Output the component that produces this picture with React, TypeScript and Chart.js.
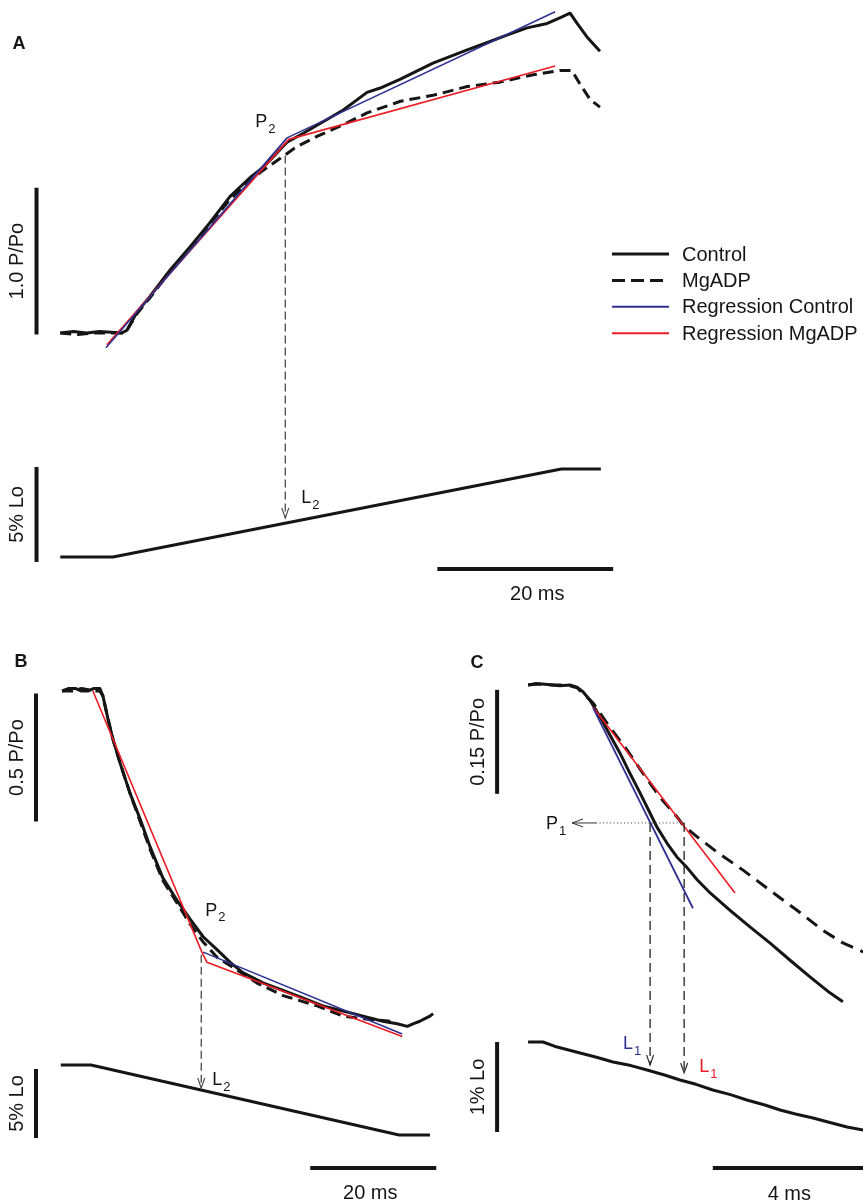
import React, { useEffect, useRef } from "react";
import { Chart, registerables } from "chart.js";

Chart.register(...registerables);

const W = 863;
const H = 1203;

type P = [number, number];

// ===== Panel A (stretch): time in ms, force as change in P/Po, length change in % Lo =====
const controlForceA: P[] = [[-6.0,0.00],[-4.5,0.01],[-3.0,0.00],[-1.5,0.01],[1.0,0.00],[1.6,0.02],[2.7,0.14],[4.2,0.25],[6.5,0.43],[8.8,0.59],[11.0,0.75],[13.3,0.93],[15.6,1.06],[17.1,1.13],[18.7,1.23],[19.8,1.30],[21.6,1.36],[23.9,1.44],[26.2,1.52],[28.9,1.64],[30.4,1.67],[32.7,1.73],[36.4,1.84],[40.3,1.93],[42.6,1.98],[44.8,2.03],[47.1,2.08],[49.4,2.11],[50.9,2.15],[52.0,2.18],[52.8,2.11],[53.9,2.02],[55.4,1.92]];
const mgadpForceA: P[] = [[-6.0,0.00],[-4.0,-0.01],[-2.0,0.00],[1.0,0.00],[1.6,0.02],[2.7,0.13],[4.2,0.24],[6.5,0.42],[8.8,0.58],[11.0,0.74],[13.3,0.91],[15.6,1.04],[17.1,1.11],[19.0,1.19],[20.9,1.27],[23.2,1.34],[26.2,1.42],[28.9,1.50],[32.7,1.58],[36.4,1.62],[40.3,1.68],[44.0,1.71],[47.8,1.76],[50.9,1.79],[52.2,1.79],[53.1,1.70],[54.3,1.59],[55.4,1.54]];
const regControlA: P[] = [[-0.8,-0.10],[19.8,1.33],[50.3,2.19]];
const regMgadpA: P[] = [[-0.7,-0.08],[20.0,1.32],[50.3,1.82]];
const lengthA: P[] = [[-6.0,0],[0,0],[51.0,4.63],[55.5,4.63]];
const p2A = { t: 19.6, force: 1.21, length: 2.05 };
const forceBarA = { t: -8.7, from: -0.01, to: 0.99, label: "1.0 P/Po" };
const lengthBarA = { t: -8.7, from: -0.26, to: 4.74, label: "5% Lo" };
const timeBarA = { y: -0.63, from: 36.9, to: 56.9, label: "20 ms" };

// ===== Panel B (release) =====
const controlForceB: P[] = [[-4.6,0.00],[-3.5,0.01],[-2.5,0.01],[-1.5,0.00],[-0.5,0.00],[0.5,0.01],[1.4,0.01],[1.9,-0.02],[2.7,-0.11],[3.5,-0.19],[4.6,-0.28],[6.2,-0.40],[7.8,-0.50],[9.4,-0.61],[11.4,-0.73],[13.7,-0.82],[15.7,-0.89],[17.8,-0.96],[20.0,-1.01],[22.1,-1.06],[24.1,-1.10],[27.3,-1.14],[30.5,-1.17],[33.7,-1.20],[36.8,-1.23],[40.0,-1.25],[43.2,-1.27],[46.3,-1.29],[48.6,-1.30],[50.2,-1.31],[51.1,-1.30],[52.2,-1.29],[53.0,-1.28],[53.8,-1.27],[54.3,-1.26]];
const mgadpForceB: P[] = [[-4.6,0.00],[-3.0,0.00],[-1.5,0.01],[0.5,0.00],[1.4,0.00],[1.9,-0.02],[2.7,-0.11],[3.5,-0.19],[4.6,-0.28],[6.2,-0.40],[7.8,-0.51],[9.4,-0.62],[11.4,-0.74],[13.7,-0.83],[15.7,-0.91],[17.8,-0.98],[20.0,-1.04],[23.2,-1.09],[26.3,-1.14],[30.5,-1.19],[35.9,-1.23],[40.0,-1.27],[43.2,-1.28],[47.5,-1.29]];
const regControlB: P[] = [[17.8,-1.02],[49.4,-1.34]];
const regMgadpB: P[] = [[0.3,0.00],[17.6,-1.02],[18.4,-1.06],[49.4,-1.35]];
const lengthB: P[] = [[-4.8,0],[0,0],[48.9,-5.07],[53.8,-5.07]];
const p2B = { t: 17.5, force: -1.03, length: -1.67 };
const forceBarB = { t: -8.73, from: -0.51, to: -0.01, label: "0.5 P/Po" };
const lengthBarB = { t: -8.73, from: -5.29, to: -0.29, label: "5% Lo" };
const timeBarB = { y: -7.46, from: 34.8, to: 54.8, label: "20 ms" };

// ===== Panel C (early phase of release) =====
const controlForceC: P[] = [[-0.39,0.000],[-0.2,0.002],[0.05,0.001],[0.25,0.000],[0.44,-0.001],[0.7,0.000],[0.89,-0.003],[1.05,-0.010],[1.23,-0.022],[1.49,-0.046],[1.75,-0.072],[2.01,-0.098],[2.27,-0.127],[2.54,-0.156],[2.80,-0.185],[2.98,-0.205],[3.24,-0.228],[3.50,-0.248],[3.76,-0.263],[4.03,-0.281],[4.37,-0.300],[4.89,-0.325],[5.41,-0.349],[5.93,-0.372],[6.46,-0.397],[6.98,-0.421],[7.50,-0.444],[7.84,-0.457]];
const mgadpForceC: P[] = [[-0.39,0.000],[-0.2,0.001],[0.05,0.001],[0.25,0.000],[0.44,0.000],[0.7,-0.001],[0.89,-0.004],[1.31,-0.026],[1.75,-0.061],[2.20,-0.094],[2.61,-0.127],[3.06,-0.162],[3.50,-0.190],[3.66,-0.202],[4.03,-0.219],[4.55,-0.241],[5.23,-0.267],[5.93,-0.296],[6.64,-0.325],[7.32,-0.354],[7.84,-0.372],[8.37,-0.385],[8.7,-0.392]];
const regControlC: P[] = [[1.31,-0.033],[3.92,-0.322]];
const regMgadpC: P[] = [[1.31,-0.032],[5.02,-0.300]];
const lengthC: P[] = [[-0.39,0],[0,0],[0.37,-0.056],[0.97,-0.122],[1.4,-0.17],[1.83,-0.222],[2.3,-0.262],[2.72,-0.311],[3.2,-0.37],[3.58,-0.422],[4.0,-0.47],[4.44,-0.533],[4.9,-0.585],[5.33,-0.644],[5.8,-0.70],[6.20,-0.756],[6.6,-0.80],[7.06,-0.844],[7.5,-0.895],[7.95,-0.944],[8.37,-0.978],[8.7,-1.01]];
const p1C = { force: -0.199, tStart: 0.76, tEnd: 3.71 };
const l1ControlC = { t: 2.80, length: -0.256 };
const l1MgadpC = { t: 3.69, length: -0.344 };
const forceBarC = { t: -1.2, from: -0.157, to: -0.007, label: "0.15 P/Po" };
const lengthBarC = { t: -1.2, from: -1.0, to: 0.0, label: "1% Lo" };
const timeBarC = { y: -1.40, from: 4.44, to: 8.44, label: "4 ms" };

const legendLabels = ["Control", "MgADP", "Regression Control", "Regression MgADP"];

// ===== styles & hidden-axis calibration (pixel of zero, pixels per unit) =====
const FONT = "'Liberation Sans', Arial, Helvetica, sans-serif";
const INK = "#151515";
const BLUE = "#2e3192";
const RED = "#ed1c24";
const GREY = "#4a4a4a";

const CAL: Record<string, [number, number]> = {
  xA: [113, 8.79], yAF: [333, 146.7], yAL: [557, 19],
  xB: [91, 6.3], yBF: [691, 256], yBL: [1065, 13.8],
  xC: [543, 38.25], yCF: [685, 693.3], yCL: [1042, 90],
};

function buildScales() {
  const scales: any = {};
  for (const [id, [o, ppu]] of Object.entries(CAL)) {
    if (id[0] === "x") {
      scales[id] = { type: "linear", axis: "x", position: "bottom", display: false, min: -o / ppu, max: (W - o) / ppu };
    } else {
      scales[id] = { type: "linear", axis: "y", position: "left", display: false, min: (o - H) / ppu, max: o / ppu };
    }
  }
  return scales;
}

function ds(data: P[], x: string, y: string, color: string, width: number, dash: number[] = []) {
  return {
    data: data.map(([a, b]) => ({ x: a, y: b })),
    xAxisID: x,
    yAxisID: y,
    borderColor: color,
    backgroundColor: color,
    borderWidth: width,
    borderDash: dash,
    borderCapStyle: "butt",
    borderJoinStyle: "round",
    pointRadius: 0,
    tension: 0,
    fill: false,
  };
}

function vBar(b: { t: number; from: number; to: number }, x: string, y: string) {
  return ds([[b.t, b.from], [b.t, b.to]], x, y, INK, 4);
}
function hBar(b: { y: number; from: number; to: number }, x: string, y: string) {
  return ds([[b.from, b.y], [b.to, b.y]], x, y, INK, 4);
}

const DASH = [11, 6];

function buildDatasets() {
  return [
    // regressions on top
    ds(regControlA, "xA", "yAF", BLUE, 1.6),
    ds(regMgadpA, "xA", "yAF", RED, 1.6),
    ds(regControlB, "xB", "yBF", BLUE, 1.6),
    ds(regMgadpB, "xB", "yBF", RED, 1.6),
    ds(regControlC, "xC", "yCF", BLUE, 1.8),
    ds(regMgadpC, "xC", "yCF", RED, 1.6),
    // traces
    ds(controlForceA, "xA", "yAF", INK, 3),
    ds(mgadpForceA, "xA", "yAF", INK, 3, DASH),
    ds(lengthA, "xA", "yAL", INK, 3),
    ds(controlForceB, "xB", "yBF", INK, 3),
    ds(mgadpForceB, "xB", "yBF", INK, 3, DASH),
    ds(lengthB, "xB", "yBL", INK, 3),
    ds(controlForceC, "xC", "yCF", INK, 3),
    ds(mgadpForceC, "xC", "yCF", INK, 3, [13, 8]),
    ds(lengthC, "xC", "yCL", INK, 3),
    // scale bars
    vBar(forceBarA, "xA", "yAF"),
    vBar(lengthBarA, "xA", "yAL"),
    hBar(timeBarA, "xA", "yAL"),
    vBar(forceBarB, "xB", "yBF"),
    vBar(lengthBarB, "xB", "yBL"),
    hBar(timeBarB, "xB", "yBL"),
    vBar(forceBarC, "xC", "yCF"),
    vBar(lengthBarC, "xC", "yCL"),
    hBar(timeBarC, "xC", "yCL"),
  ];
}

function text(ctx: CanvasRenderingContext2D, s: string, x: number, y: number, font: string, color = INK, align: CanvasTextAlign = "center") {
  ctx.font = font;
  ctx.fillStyle = color;
  ctx.textAlign = align;
  ctx.textBaseline = "middle";
  ctx.fillText(s, x, y);
}

function rotText(ctx: CanvasRenderingContext2D, s: string, x: number, y: number) {
  ctx.save();
  ctx.translate(x, y);
  ctx.rotate(-Math.PI / 2);
  text(ctx, s, 0, 0, `20px ${FONT}`);
  ctx.restore();
}

function subLabel(ctx: CanvasRenderingContext2D, main: string, sub: string, cx: number, cy: number, color = INK) {
  ctx.font = `18px ${FONT}`;
  const w = ctx.measureText(main).width;
  text(ctx, main, cx - w / 2, cy, `18px ${FONT}`, color, "left");
  text(ctx, sub, cx + w / 2 + 1, cy + 7, `13px ${FONT}`, color, "left");
}

function vArrow(ctx: CanvasRenderingContext2D, x: number, y1: number, y2: number, color: string, dash: number[]) {
  ctx.save();
  ctx.strokeStyle = color;
  ctx.lineWidth = 1.3;
  ctx.setLineDash(dash);
  ctx.beginPath();
  ctx.moveTo(x, y1);
  ctx.lineTo(x, y2);
  ctx.stroke();
  ctx.setLineDash([]);
  ctx.lineWidth = 1.1;
  ctx.beginPath();
  ctx.moveTo(x - 3.5, y2 - 10);
  ctx.lineTo(x, y2);
  ctx.lineTo(x + 3.5, y2 - 10);
  ctx.stroke();
  ctx.restore();
}

const annotations = {
  id: "annotations",
  afterDatasetsDraw(chart: any) {
    const { ctx, scales: s } = chart;
    const px = (id: string, v: number) => s[id].getPixelForValue(v);
    ctx.save();

    // panel letters
    text(ctx, "A", 19, 44, `bold 18px ${FONT}`);
    text(ctx, "B", 21, 662, `bold 18px ${FONT}`);
    text(ctx, "C", 477, 663, `bold 18px ${FONT}`);

    // scale bar labels
    const vLab = (b: any, x: string, y: string) =>
      rotText(ctx, b.label, px(x, b.t) - 19, (px(y, b.from) + px(y, b.to)) / 2);
    vLab(forceBarA, "xA", "yAF");
    vLab(lengthBarA, "xA", "yAL");
    vLab(forceBarB, "xB", "yBF");
    vLab(lengthBarB, "xB", "yBL");
    vLab(forceBarC, "xC", "yCF");
    vLab(lengthBarC, "xC", "yCL");
    const hLab = (b: any, x: string, y: string, dx: number) =>
      text(ctx, b.label, (px(x, b.from) + px(x, b.to)) / 2 + dx, px(y, b.y) + 26, `20px ${FONT}`);
    hLab(timeBarA, "xA", "yAL", 12);
    hLab(timeBarB, "xB", "yBL", -3);
    hLab(timeBarC, "xC", "yCL", 0);

    // Panel A: P2 -> L2
    {
      const x = px("xA", p2A.t);
      const yTop = px("yAF", p2A.force);
      const yTip = px("yAL", p2A.length);
      vArrow(ctx, x, yTop, yTip, GREY, [8, 4]);
      subLabel(ctx, "P", "2", x - 24, yTop - 33);
      subLabel(ctx, "L", "2", x + 21, yTip - 20);
    }
    // Panel B: P2 -> L2
    {
      const x = px("xB", p2B.t);
      const yTop = px("yBF", p2B.force);
      const yTip = px("yBL", p2B.length);
      vArrow(ctx, x, yTop, yTip, GREY, [8, 4]);
      subLabel(ctx, "P", "2", x + 10, yTop - 44);
      subLabel(ctx, "L", "2", x + 16, yTip - 8);
    }
    // Panel C: P1 and L1 arrows
    {
      const y = px("yCF", p1C.force);
      const x0 = px("xC", p1C.tStart);
      const x1 = px("xC", p1C.tEnd);
      ctx.save();
      ctx.strokeStyle = "#333";
      ctx.lineWidth = 1;
      ctx.beginPath();
      ctx.moveTo(x0, y);
      ctx.lineTo(x0 + 24, y);
      ctx.moveTo(x0 + 11, y - 4);
      ctx.lineTo(x0, y);
      ctx.lineTo(x0 + 11, y + 4);
      ctx.stroke();
      ctx.setLineDash([1, 2.5]);
      ctx.beginPath();
      ctx.moveTo(x0 + 24, y);
      ctx.lineTo(x1, y);
      ctx.stroke();
      ctx.restore();
      subLabel(ctx, "P", "1", x0 - 20, y + 1);

      const xb = px("xC", l1ControlC.t);
      const yb = px("yCL", l1ControlC.length);
      vArrow(ctx, xb, y, yb, "#222", [9, 5]);
      subLabel(ctx, "L", "1", xb - 22, yb - 21, BLUE);

      const xr = px("xC", l1MgadpC.t);
      const yr = px("yCL", l1MgadpC.length);
      vArrow(ctx, xr, y, yr, "#222", [9, 5]);
      subLabel(ctx, "L", "1", xr + 20, yr - 6, RED);
    }

    // legend
    const styles = [
      { color: INK, width: 3, dash: [] as number[] },
      { color: INK, width: 3, dash: [13, 6] },
      { color: BLUE, width: 2, dash: [] as number[] },
      { color: RED, width: 2, dash: [] as number[] },
    ];
    legendLabels.forEach((lab, i) => {
      const y = 254 + i * 26.4;
      const st = styles[i];
      ctx.save();
      ctx.strokeStyle = st.color;
      ctx.lineWidth = st.width;
      ctx.setLineDash(st.dash);
      ctx.beginPath();
      ctx.moveTo(612, y);
      ctx.lineTo(669, y);
      ctx.stroke();
      ctx.restore();
      text(ctx, lab, 682, y + 1, `20px ${FONT}`, INK, "left");
    });

    ctx.restore();
  },
};

export default function App() {
  const ref = useRef<HTMLCanvasElement>(null);
  useEffect(() => {
    document.body.style.margin = "0";
    const chart = new Chart(ref.current as HTMLCanvasElement, {
      type: "line",
      data: { datasets: buildDatasets() as any },
      options: {
        responsive: false,
        maintainAspectRatio: false,
        animation: false,
        events: [],
        layout: { padding: 0 },
        plugins: { legend: { display: false }, tooltip: { enabled: false } },
        scales: buildScales(),
      },
      plugins: [annotations],
    });
    return () => chart.destroy();
  }, []);
  return (
    <div style={{ width: W, height: H, background: "#fff" }}>
      <canvas ref={ref} width={W} height={H} style={{ display: "block" }} />
    </div>
  );
}
